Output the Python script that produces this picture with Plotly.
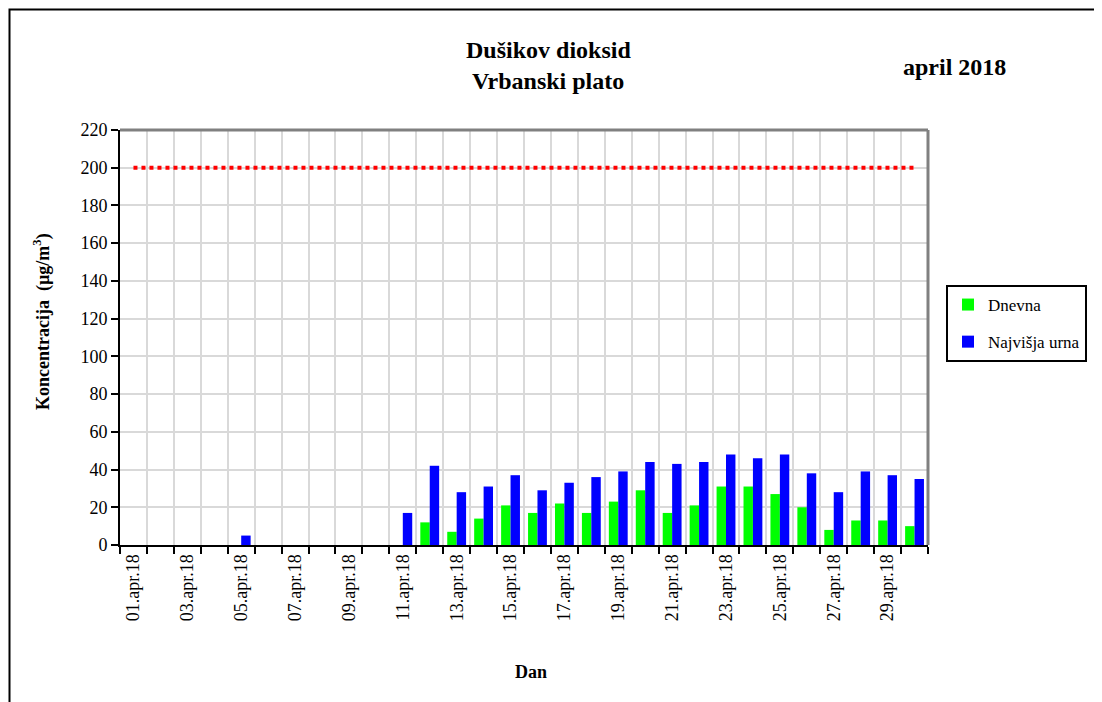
import plotly.graph_objects as go

# podatki - april 2018, Vrbanski plato (NO2)
dan = list(range(1, 31))
dnevna = [None, None, None, None, None, None, None, None, None, None,
          None, 12, 7, 14, 21, 17, 22, 17, 23, 29,
          17, 21, 31, 31, 27, 20, 8, 13, 13, 10]
najvisja_urna = [None, None, None, None, 5, None, None, None, None, None,
                 17, 42, 28, 31, 37, 29, 33, 36, 39, 44,
                 43, 44, 48, 46, 48, 38, 28, 39, 37, 35]
mejna_vrednost = [200] * 30

tick_dni = [1, 3, 5, 7, 9, 11, 13, 15, 17, 19, 21, 23, 25, 27, 29]
tick_labels = ["01.apr.18", "03.apr.18", "05.apr.18", "07.apr.18", "09.apr.18",
               "11.apr.18", "13.apr.18", "15.apr.18", "17.apr.18", "19.apr.18",
               "21.apr.18", "23.apr.18", "25.apr.18", "27.apr.18", "29.apr.18"]

FONT = "Liberation Serif, Times New Roman, serif"

# page has 8px body margin -> screen pixel = figure pixel + 8
OFF = 8
L, R, T, B = 120 - OFF, 928 - OFF, 130 - OFF, 545 - OFF
W, H = 1102, 702
def px(x):
    return (x - OFF - L) / (R - L)
def py(y):
    return (B - (y - OFF)) / (B - T)

fig = go.Figure()

fig.add_trace(go.Bar(x=dan, y=dnevna, name="Dnevna", marker_color="#00ff00",
                     marker_line_width=0, legendgroup="a"))
fig.add_trace(go.Bar(x=dan, y=najvisja_urna, name="Najvišja urna", marker_color="#0000ff",
                     marker_line_width=0, legendgroup="b"))
fig.add_trace(go.Scatter(x=dan, y=mejna_vrednost, mode="lines", showlegend=False,
                         line=dict(color="#ff0000", width=4, dash="4px,4px")))

def label(text, x, y, size, angle=0):
    return dict(text=text, xref="paper", yref="paper", x=px(x), y=py(y),
                xanchor="center", yanchor="middle", showarrow=False, textangle=angle,
                font=dict(size=size, family=FONT, color="black"))

fig.update_layout(
    width=W, height=H,
    margin=dict(l=L, r=W - R, t=T, b=H - B),
    paper_bgcolor="white", plot_bgcolor="white",
    font=dict(family=FONT, color="black", size=18),
    barmode="group", bargap=0.3, bargroupgap=0,
    showlegend=True,
    legend=dict(x=px(946), y=py(285), xanchor="left", yanchor="top",
                bordercolor="black", borderwidth=2, bgcolor="white",
                font=dict(size=17, family=FONT), traceorder="grouped",
                tracegroupgap=12, itemwidth=30),
    xaxis=dict(
        range=[0.5, 30.5], tickmode="array", tickvals=tick_dni, ticktext=tick_labels,
        tickangle=-90, ticks="", showgrid=False, zeroline=False,
        showline=True, linecolor="black", linewidth=2,
        tickfont=dict(size=18, family=FONT),
        minor=dict(tickmode="array", tickvals=[d - 0.5 for d in dan] + [30.5],
                   ticks="outside", ticklen=7, tickwidth=2, tickcolor="black",
                   showgrid=True, gridcolor="#d9d9d9", gridwidth=2),
    ),
    yaxis=dict(
        range=[0, 220], dtick=20, ticks="outside", ticklen=7, tickwidth=2, tickcolor="black",
        showline=True, linecolor="black", linewidth=2, zeroline=False,
        showgrid=True, gridcolor="#d9d9d9", gridwidth=2,
        tickfont=dict(size=18, family=FONT),
    ),
    shapes=[
        # sivi okvir zgoraj in desno
        dict(type="line", xref="paper", yref="paper", x0=0, x1=1, y0=1, y1=1,
             line=dict(color="#808080", width=3)),
        dict(type="line", xref="paper", yref="paper", x0=1, x1=1, y0=0, y1=1,
             line=dict(color="#808080", width=3)),
        # zunanji okvir grafa
        dict(type="rect", xref="paper", yref="paper", x0=px(9.5), x1=px(1130),
             y0=py(730), y1=py(9.5), line=dict(color="black", width=2)),
    ],
    annotations=[
        label("<b>Dušikov dioksid</b>", 548, 50, 24),
        label("<b>Vrbanski plato</b>", 548, 81, 24),
        label("<b>april 2018</b>", 954, 67, 24),
        label("<b>Koncentracija  (µg/m<sup>3</sup>)</b>", 42, 322, 18, -90),
        label("<b>Dan</b>", 531, 672, 18),
    ],
)

fig.write_html("out.html")
